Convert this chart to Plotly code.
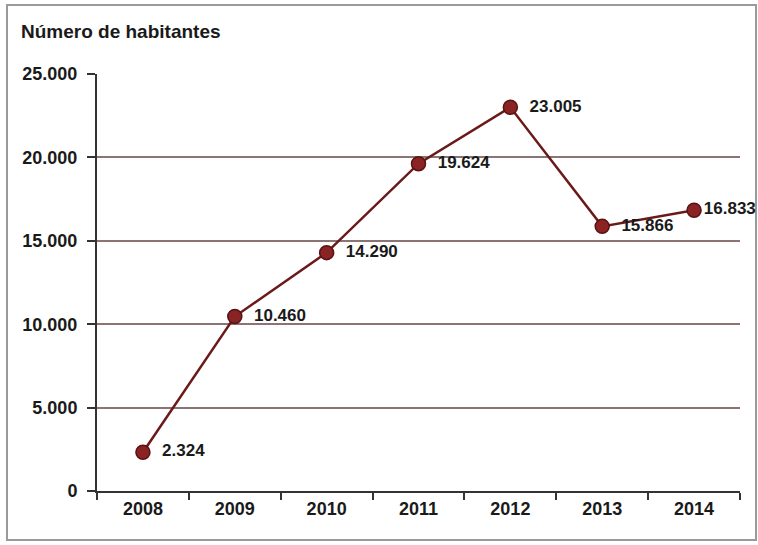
import plotly.graph_objects as go

years = ["2008", "2009", "2010", "2011", "2012", "2013", "2014"]
habitantes = [2324, 10460, 14290, 19624, 23005, 15866, 16833]
y_tickvals = [0, 5000, 10000, 15000, 20000, 25000]
y_ticktext = ["0", "5.000", "10.000", "15.000", "20.000", "25.000"]
title_text = "Número de habitantes"

W, H = 758, 545
L, R, T, B = 97, 18, 74, 54
pw, ph = W - L - R, H - T - B

def px_x(p):
    return (p - L) / pw

def px_y(p):
    return (H - B - p) / ph

FONT = "Liberation Sans, Arial, sans-serif"
TXT = "#1a1a1a"

# label spacing: the last label sits tight against its marker, as in the source
label_templates = ["\u00a0\u00a0%{y:,d}"] * (len(years) - 1) + ["%{y:,d}"]

fig = go.Figure()
fig.add_trace(go.Scatter(
    x=years, y=habitantes,
    mode="lines+markers+text",
    line=dict(color="#6b1a1a", width=2.5),
    marker=dict(size=14, color="#8a2323", line=dict(color="#5a1212", width=1.5)),
    texttemplate=label_templates,
    textposition="middle right",
    textfont=dict(family=FONT, size=17, color=TXT, weight="bold"),
    cliponaxis=False,
    hoverinfo="skip",
))

fig.update_layout(
    width=W, height=H,
    margin=dict(l=L, r=R, t=T, b=B),
    paper_bgcolor="white", plot_bgcolor="white",
    separators=",.",
    showlegend=False,
    font=dict(family=FONT, color=TXT),
    xaxis=dict(
        type="category",
        range=[-0.5, 6.5],
        tickson="boundaries",
        ticks="outside", ticklen=7, tickwidth=2, tickcolor="#333",
        showline=True, linecolor="#333", linewidth=2,
        showgrid=False, zeroline=False,
        tickfont=dict(family=FONT, size=18, color=TXT, weight="bold"),
        fixedrange=True,
    ),
    yaxis=dict(
        range=[0, 25000],
        tickvals=y_tickvals, ticktext=y_ticktext,
        ticks="outside", ticklen=8, tickwidth=2, tickcolor="#333",
        showline=True, linecolor="#333", linewidth=2,
        showgrid=True, gridcolor="#8c7474", gridwidth=1.5,
        zeroline=False,
        ticklabelstandoff=6,
        tickfont=dict(family=FONT, size=18, color=TXT, weight="bold"),
        fixedrange=True,
    ),
    annotations=[dict(
        text=title_text, xref="paper", yref="paper",
        x=px_x(19), y=px_y(32), xanchor="left", yanchor="middle",
        showarrow=False,
        font=dict(family=FONT, size=19, color=TXT, weight="bold"),
    )],
    shapes=[dict(
        type="rect", xref="paper", yref="paper",
        x0=px_x(7), x1=px_x(756), y0=px_y(540), y1=px_y(5),
        line=dict(color="#9a9a9a", width=2), layer="below",
    )],
)

fig.write_html(
    "out.html",
    config={"displayModeBar": False},
    post_script="document.body.style.margin='0';document.body.style.padding='0';",
)
